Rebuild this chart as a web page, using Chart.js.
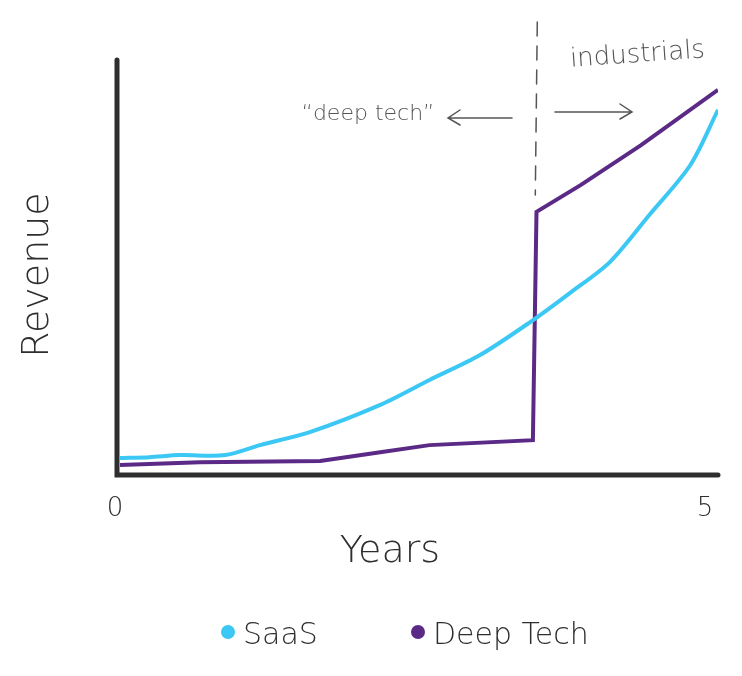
<!DOCTYPE html>
<html><head><meta charset="utf-8">
<script src="https://cdn.jsdelivr.net/npm/chart.js@4"></script>
<style>html,body{margin:0;padding:0;background:#fff}#w{width:742px;height:676px}</style>
</head><body><div id="w"><canvas id="c"></canvas></div>
<script>
const seriesNames = ["SaaS", "Deep Tech"];
const saasX = [0.025,0.27,0.52,0.9,1.19,1.61,2.19,2.6,3.02,3.44,3.77,4.1,4.43,4.77,5.0];
const saasY = [4.1,4.3,4.8,4.8,7.2,10.4,16.9,22.9,28.9,36.9,43.9,51.3,62.7,74.7,88];
const deepX = [0.025,0.69,1.69,2.19,2.6,3.46,3.49,3.86,4.36,5.0];
const deepY = [2.4,3.1,3.4,5.5,7.2,8.4,63.4,69.9,79.5,92.8];
const xTickLabels = ["0","5"];
const colors = ["#3cc8f4","#5b2a86"];
const ink = "#2e2e2e";
const font = "'DejaVu Sans', sans-serif";

const pts = (xs, ys) => xs.map((x,i)=>({x, y: ys[i]}));
const deco = {
  id:'deco',
  afterDraw(ch){
    const c = ch.ctx, xs = ch.scales.x, ys = ch.scales.y;
    const L = xs.getPixelForValue(0), R = xs.getPixelForValue(5), B = ys.getPixelForValue(0), T = ys.getPixelForValue(100);
    c.save();
    c.strokeStyle = ink; c.lineWidth = 5; c.lineCap='round';
    c.beginPath(); c.moveTo(L, T); c.lineTo(L, B); c.lineTo(R, B); c.stroke();
    c.fillStyle = ink; c.font = "300 26px "+font; c.textAlign='center';
    c.fillText(xTickLabels[0], L-2, 516);
    c.fillText(xTickLabels[1], R-13, 516);
    c.font = "300 38px "+font;
    c.fillText("Years", 390, 562);
    c.save(); c.translate(48, 275); c.rotate(-Math.PI/2); c.fillText("Revenue", 0, 0); c.restore();
    // annotations
    const dx = xs.getPixelForValue(3.48);
    c.strokeStyle = "#555"; c.lineWidth = 1.5; c.setLineDash([14,10]);
    c.beginPath(); c.moveTo(dx+2, 22); c.lineTo(dx, 195); c.stroke(); c.setLineDash([]);
    c.fillStyle = "#555"; c.font = "300 22px "+font;
    c.fillText("\u201Cdeep tech\u201D", 368, 120);
    c.save(); c.translate(638, 62); c.rotate(-0.07); c.font = "300 26px "+font; c.fillText("industrials", 0, 0); c.restore();
    const arrow=(x1,x2,y)=>{c.beginPath();c.moveTo(x1,y);c.lineTo(x2,y);const d=Math.sign(x2-x1);c.moveTo(x2-d*12,y-8);c.lineTo(x2,y);c.lineTo(x2-d*12,y+7);c.stroke();};
    arrow(512,448,118); arrow(555,632,112);
    // legend
    c.font = "300 30px "+font; c.textAlign='left';
    [[228,0],[418,1]].forEach(([x,i])=>{c.fillStyle=colors[i];c.beginPath();c.arc(x,632,7,0,Math.PI*2);c.fill();c.fillStyle=ink;c.fillText(seriesNames[i], x+15, 644);});
    c.restore();
  }
};
new Chart(document.getElementById('c'), {
  type:'line',
  data:{datasets:[
    {label:seriesNames[0], data:pts(saasX,saasY), borderColor:colors[0], backgroundColor:colors[0], borderWidth:4, pointRadius:0, tension:0.3},
    {label:seriesNames[1], data:pts(deepX,deepY), borderColor:colors[1], backgroundColor:colors[1], borderWidth:4, pointRadius:0, tension:0}
  ]},
  options:{
    responsive:true, maintainAspectRatio:false, animation:false,
    layout:{padding:{left:117, right:24, top:60, bottom:201}},
    plugins:{legend:{display:false}, tooltip:{enabled:false}},
    scales:{x:{type:'linear', min:0, max:5, display:false}, y:{min:0, max:100, display:false}}
  },
  plugins:[deco]
});
</script></body></html>
